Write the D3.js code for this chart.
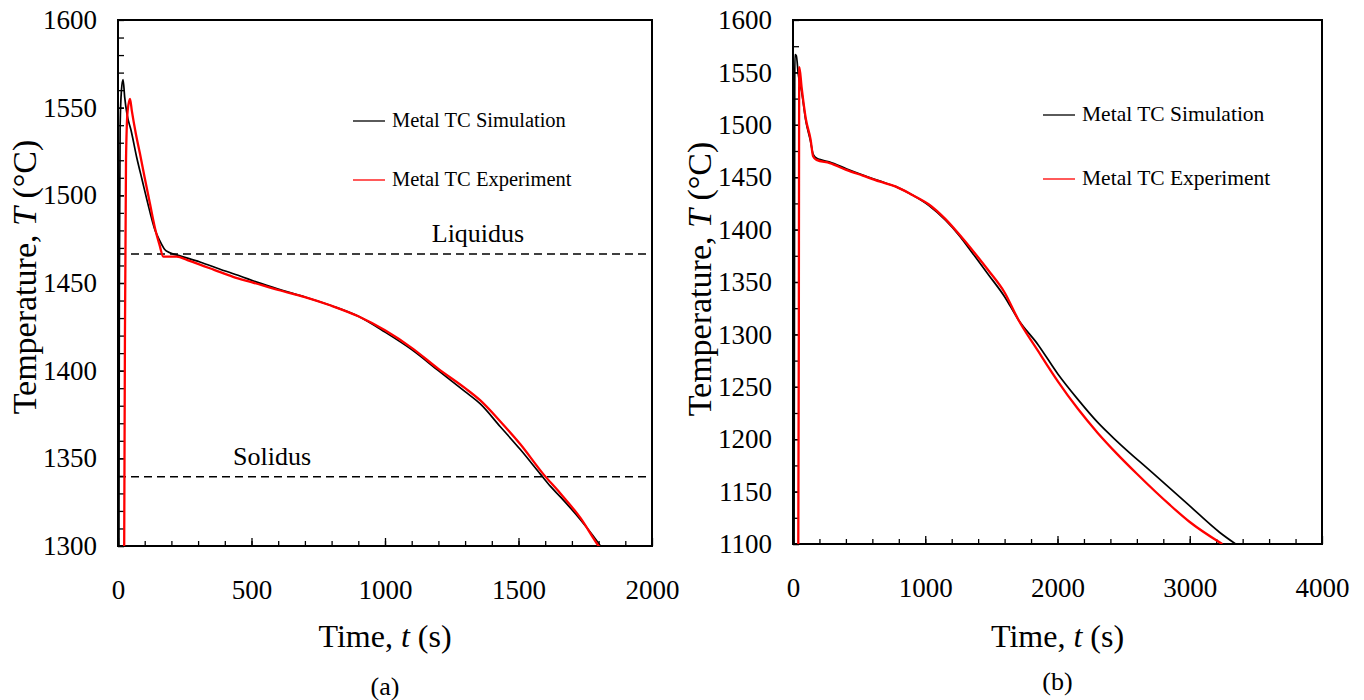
<!DOCTYPE html>
<html>
<head>
<meta charset="utf-8">
<script src="https://cdn.jsdelivr.net/npm/d3@7"></script>
<style>
  body { margin: 0; background: #fff; }
  svg text { font-family: "Liberation Serif", "Times New Roman", serif; fill: #000; }
</style>
</head>
<body>
<div class="chart"></div>
<script>
// ---- data (a) : time [s], temperature [°C]
const simA = [[3,1250],[5,1450],[8,1540],[13,1560],[19,1566],[25,1556],[34,1546],[49,1537],[71,1521],[90,1509],[109,1497],[139,1480],[157,1474],[176,1469],[190,1467.5],[232,1465.5],[307,1462],[380,1458],[457,1454],[520,1450.5],[600,1446.5],[700,1442],[800,1437],[900,1431],[1000,1422],[1100,1412],[1200,1400],[1300,1388],[1357,1381],[1432,1368],[1507,1355],[1582,1341],[1620,1334],[1657,1328],[1732,1315],[1807,1300],[1820,1297]];
const expA = [[22,1250],[26,1420],[30,1520],[36,1548],[45,1555],[52,1548],[67,1535],[82,1524],[100,1510],[120,1495],[139,1481],[155,1472],[170,1465],[190,1465],[220,1465],[260,1463],[307,1460.5],[360,1457.5],[431,1453.5],[500,1450.5],[600,1446],[700,1442],[800,1437],[900,1431],[1000,1423],[1100,1413],[1200,1401],[1300,1390],[1357,1383],[1432,1371],[1507,1358],[1593,1341],[1657,1330],[1732,1316],[1800,1300],[1820,1296]];

// ---- data (b)
const simB = [[8,1100],[11,1350],[13,1540],[15,1567],[25,1566],[40,1548],[65,1532],[98,1503],[133,1484],[152,1472],[170,1469],[200,1467],[278,1464.5],[403,1458],[528,1452],[653,1446.5],[778,1441],[903,1433],[1028,1423],[1153,1409],[1253,1395],[1378,1374],[1478,1357],[1600,1336],[1704,1314],[1854,1290],[2004,1262],[2154,1238],[2304,1216],[2450,1198],[2717,1168],[2985,1138],[3227,1111],[3347,1100]];
const expB = [[40,1100],[44,1300],[46,1500],[48,1555],[65,1536],[98,1505],[133,1486],[152,1470],[178,1466.5],[278,1463.5],[403,1457],[528,1451.5],[653,1446],[778,1441],[903,1433],[1028,1424],[1153,1410],[1253,1396],[1378,1377],[1478,1361],[1600,1340],[1704,1314],[1854,1284],[2004,1255],[2154,1229],[2304,1206],[2450,1186],[2600,1167],[2852,1137],[3000,1121],[3246,1100]];

// 液相線・固相線
const refLevels = [1466.5, 1339.5];
const refNames = ["Liquidus", "Solidus"];

// tick labels
const xTicksA = [0, 500, 1000, 1500, 2000];
const yTicksA = [1300, 1350, 1400, 1450, 1500, 1550, 1600];
const xTicksB = [0, 1000, 2000, 3000, 4000];
const yTicksB = [1100, 1150, 1200, 1250, 1300, 1350, 1400, 1450, 1500, 1550, 1600];

const seriesNames = ["Metal TC Simulation", "Metal TC Experiment"];
const seriesColors = ["#000", "#f00"];
const serif = '"Liberation Serif", "Times New Roman", serif';

const svg = d3.select(".chart")
    .append("svg")
    .attr("width", 1364)
    .attr("height", 700);

svg.append("rect").attr("width", 1364).attr("height", 700).attr("fill", "#fff");

function drawPanel(p) {
    const x = d3.scaleLinear().domain([p.xTicks[0], p.xTicks[p.xTicks.length - 1]]).range([p.left, p.right]);
    const y = d3.scaleLinear().domain([p.yTicks[0], p.yTicks[p.yTicks.length - 1]]).range([p.bottom, p.top]);
    const g = svg.append("g");

    g.append("clipPath").attr("id", p.id + "-clip")
        .append("rect")
        .attr("x", p.left).attr("y", p.top)
        .attr("width", p.right - p.left).attr("height", p.bottom - p.top);

    // minor ticks (inside)
    g.append("g")
        .attr("transform", `translate(0,${p.bottom})`)
        .call(d3.axisBottom(x).tickValues(d3.range(p.xTicks[0], p.xTicks[p.xTicks.length - 1], p.xMinor)).tickSize(-5).tickFormat(""))
        .call(a => a.select(".domain").remove());
    g.append("g")
        .attr("transform", `translate(${p.left},0)`)
        .call(d3.axisLeft(y).tickValues(d3.range(p.yTicks[0], p.yTicks[p.yTicks.length - 1], p.yMinor)).tickSize(-6).tickFormat(""))
        .call(a => a.select(".domain").remove());

    // major ticks + labels
    g.append("g")
        .attr("transform", `translate(0,${p.bottom})`)
        .call(d3.axisBottom(x).tickValues(p.xTicks).tickSize(-8).tickPadding(34).tickFormat(d3.format("d")))
        .attr("font-size", 27).attr("font-family", serif)
        .call(a => a.select(".domain").remove());
    g.append("g")
        .attr("transform", `translate(${p.left},0)`)
        .call(d3.axisLeft(y).tickValues(p.yTicks).tickSize(-6).tickPadding(21).tickFormat(d3.format("d")))
        .attr("font-size", 27).attr("font-family", serif)
        .call(a => a.select(".domain").remove());
    g.selectAll(".tick line").attr("stroke", "#000").attr("stroke-width", 1.3);

    // 枠
    g.append("rect")
        .attr("x", p.left).attr("y", p.top)
        .attr("width", p.right - p.left).attr("height", p.bottom - p.top)
        .attr("fill", "none").attr("stroke", "#000").attr("stroke-width", 2);

    // reference lines
    if (p.refs) {
        g.selectAll(".ref-line")
            .data(refLevels)
            .enter()
            .append("line")
            .attr("x1", p.left).attr("x2", p.right)
            .attr("y1", d => y(d)).attr("y2", d => y(d))
            .attr("stroke", "#000").attr("stroke-width", 1.6)
            .attr("stroke-dasharray", "8,5");
        g.selectAll(".ref-label")
            .data(refNames)
            .enter()
            .append("text")
            .attr("x", (d, i) => p.refLabelX[i])
            .attr("y", (d, i) => y(refLevels[i]) - 12)
            .attr("text-anchor", "middle")
            .attr("font-size", 26)
            .text(d => d);
    }

    // lines
    const line = d3.line().x(d => x(d[0])).y(d => y(d[1])).curve(d3.curveMonotoneX);
    const plot = g.append("g").attr("clip-path", `url(#${p.id}-clip)`);
    [p.sim, p.exp].forEach((s, i) => {
        plot.append("path")
            .datum(s)
            .attr("d", line)
            .attr("fill", "none")
            .attr("stroke", seriesColors[i])
            .attr("stroke-width", i === 0 ? 1.7 : 2.3)
            .attr("stroke-linejoin", "round");
    });

    // legend
    seriesNames.forEach((name, i) => {
        const ly = p.legendY[i];
        g.append("line")
            .attr("x1", p.legendX).attr("x2", p.legendX + 32)
            .attr("y1", ly).attr("y2", ly)
            .attr("stroke", seriesColors[i]).attr("stroke-width", 1.3);
        g.append("text")
            .attr("x", p.legendX + 39)
            .attr("y", ly + 6)
            .attr("font-size", p.legendFont)
            .text(name);
    });

    // axis titles
    const cx = (p.left + p.right) / 2;
    const xt = g.append("text")
        .attr("x", cx).attr("y", 647)
        .attr("text-anchor", "middle")
        .attr("font-size", 32);
    xt.append("tspan").text("Time, ");
    xt.append("tspan").attr("font-style", "italic").text("t");
    xt.append("tspan").text(" (s)");

    const yt = g.append("text")
        .attr("transform", `translate(${p.left - 82},${p.titleY}) rotate(-90)`)
        .attr("text-anchor", "middle")
        .attr("font-size", 34);
    yt.append("tspan").text("Temperature, ");
    yt.append("tspan").attr("font-style", "italic").text("T");
    yt.append("tspan").text(" (°C)");

    g.append("text")
        .attr("x", cx).attr("y", p.subY)
        .attr("text-anchor", "middle")
        .attr("font-size", 26)
        .text(p.sub);
}

drawPanel({
    id: "a", left: 118, right: 652, top: 20, bottom: 546,
    xTicks: xTicksA, yTicks: yTicksA, xMinor: 100, yMinor: 10,
    sim: simA, exp: expA, refs: true, refLabelX: [478, 272],
    legendX: 353, legendY: [121, 180], legendFont: 20.5, titleY: 277,
    sub: "(a)", subY: 695
});

drawPanel({
    id: "b", left: 793, right: 1322, top: 20, bottom: 544,
    xTicks: xTicksB, yTicks: yTicksB, xMinor: 200, yMinor: 25,
    sim: simB, exp: expB, refs: false,
    legendX: 1043, legendY: [115, 179], legendFont: 21.5, titleY: 279,
    sub: "(b)", subY: 690
});
</script>
</body>
</html>
